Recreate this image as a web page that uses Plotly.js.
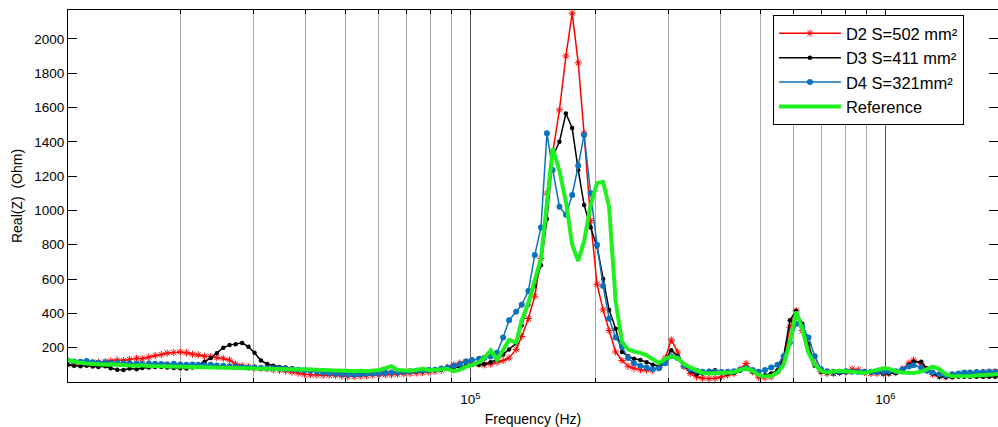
<!DOCTYPE html>
<html>
<head>
<meta charset="utf-8">
<script src="https://cdn.plot.ly/plotly-3.0.1.min.js"></script>
<style>html,body{margin:0;padding:0;background:#fff;}#chart{width:998px;height:427px;}</style>
</head>
<body>
<div id="chart"></div>
<script>
// Frequency sampling (Hz)
const freqHz = [
10700,11100,11500,11900,12300,12700,13200,13600,14100,14600,
15100,15700,16200,16800,17400,18000,18600,19300,20000,20700,
21400,22100,22900,23700,24500,25400,26300,27200,28200,29200,
30200,31300,32400,33500,34700,35900,37200,38500,39800,41200,
42700,44200,45700,47300,49000,50700,52500,54300,56200,58200,
60300,62400,64600,66800,69200,71600,74100,76700,79400,82200,
85100,88100,91200,94400,97700,101000,105000,108000,112000,116000,
120000,124000,129000,133000,138000,143000,148000,153000,158000,164000,
170000,176000,182000,188000,195000,202000,209000,216000,224000,232000,
240000,248000,257000,266000,275000,285000,295000,305000,316000,327000,
339000,351000,363000,376000,389000,403000,417000,432000,447000,462000,
479000,495000,513000,531000,550000,569000,589000,610000,631000,653000,
676000,700000,724000,750000,776000,804000,832000,861000,891000,923000,
955000,989000,1020000,1060000,1100000,1140000,1170000,1220000,1260000,1300000,
1350000,1400000,1450000,1500000,1550000,1600000,1660000,1720000,1780000,1840000,
1910000];

// Real(Z) in Ohm
const realD2 = [
100,105,110,108,112,115,118,122,128,125,
132,138,135,145,155,160,168,172,175,170,
162,158,150,148,142,138,128,105,95,88,
82,80,78,72,68,64,58,52,45,42,
42,40,40,38,35,32,32,35,38,40,
42,42,42,45,48,50,52,55,58,62,
68,85,100,110,118,110,105,100,105,115,
125,140,190,265,370,500,720,1100,1340,1586,
1900,2150,1860,1450,940,570,420,300,175,125,
92,80,72,70,70,85,140,245,175,90,
50,30,22,20,22,30,40,50,75,108,
60,28,25,30,60,130,320,415,300,215,
110,60,50,50,55,60,75,70,55,50,
50,48,50,55,75,110,128,105,70,45,
32,30,35,40,45,48,52,55,58,60,
60];

const realD3 = [
100,95,92,95,90,88,92,80,72,70,
78,75,82,85,88,88,85,82,80,78,
85,100,118,140,168,200,215,220,228,205,
170,125,105,95,88,85,80,72,68,65,
62,60,55,52,50,48,48,50,52,55,
55,58,58,56,58,60,62,63,65,68,
72,78,85,90,95,100,100,105,115,130,
160,190,226,330,450,560,680,950,1314,1400,
1565,1480,1236,1032,900,790,600,420,310,175,
150,135,128,115,100,90,130,185,150,95,
65,45,50,65,68,55,50,52,65,80,
60,42,40,50,68,150,360,415,340,220,
95,60,52,50,52,55,58,60,60,55,
52,50,50,52,60,100,118,118,80,50,
32,28,28,30,30,30,30,30,30,30,
30];

const realD4 = [
125,120,118,122,115,112,115,110,112,108,
110,108,105,108,106,105,104,106,102,100,
102,100,98,100,96,95,92,90,88,85,
86,82,80,80,78,76,75,72,68,65,
60,56,52,48,45,42,42,45,48,50,
50,52,55,55,58,62,65,68,70,72,
78,85,95,105,120,128,135,140,148,170,
260,360,410,450,530,740,900,1450,1236,1022,
975,1090,1260,1440,1100,800,560,370,260,205,
140,110,95,85,75,80,110,150,140,95,
75,65,60,58,60,58,60,62,72,80,
70,60,70,85,100,150,230,340,320,260,
150,75,62,60,60,62,60,58,60,60,
58,60,62,62,75,90,98,85,65,55,
45,40,45,50,55,55,58,58,60,60,
60];

const realRef = [
128,118,112,108,105,103,100,104,100,98,
96,95,98,93,92,91,90,89,88,87,
86,85,84,83,82,81,80,80,79,78,
78,77,76,75,76,75,74,73,75,72,
70,70,68,67,68,65,62,65,62,66,
70,80,92,70,65,66,70,78,68,70,
72,76,62,72,88,100,115,140,185,130,
190,245,230,360,460,590,720,1040,1362,1230,
1050,800,705,820,1030,1160,1165,1020,470,235,
190,178,170,155,130,110,135,150,138,105,
85,65,52,50,52,55,55,57,70,80,
65,40,32,35,55,100,230,410,310,170,
100,65,55,58,66,62,58,55,52,62,
72,80,78,62,55,50,52,60,78,90,
75,45,33,32,33,35,38,40,42,45,
46];

const seriesNames = ['D2 S=502 mm²', 'D3 S=411 mm²', 'D4 S=321mm²', 'Reference'];
const majorTicks = [1e5, 1e6];
const majorTickText = ['10<sup>5</sup>', '10<sup>6</sup>'];
const minorTicks = [20000,30000,40000,50000,60000,70000,80000,90000,
                    200000,300000,400000,500000,600000,700000,800000,900000];
const yTicks = [200,400,600,800,1000,1200,1400,1600,1800,2000];

const FONT = 'Arial, "Liberation Sans", sans-serif';

const traces = [
  {x: freqHz, y: realD2, name: seriesNames[0], type: 'scatter', mode: 'lines+markers',
   line: {color: '#ff0000', width: 1.5},
   marker: {symbol: 'asterisk-open', size: 6, color: '#ff0000', line: {color: '#ff0000', width: 1}}},
  {x: freqHz, y: realD3, name: seriesNames[1], type: 'scatter', mode: 'lines+markers',
   line: {color: '#000000', width: 1.5},
   marker: {symbol: 'circle', size: 4.5, color: '#000000'}},
  {x: freqHz, y: realD4, name: seriesNames[2], type: 'scatter', mode: 'lines+markers',
   line: {color: '#0a72bd', width: 1.5},
   marker: {symbol: 'circle', size: 6, color: '#0a72bd'}},
  {x: freqHz, y: realRef, name: seriesNames[3], type: 'scatter', mode: 'lines',
   line: {color: '#1ff01f', width: 4}}
];

const layout = {
  width: 998, height: 427,
  margin: {l: 68, r: 0, t: 10, b: 45},
  paper_bgcolor: '#ffffff', plot_bgcolor: '#ffffff',
  font: {family: FONT, color: '#000000', size: 13.5},
  showlegend: true,
  legend: {
    x: 0.758, y: 0.9866, xanchor: 'left', yanchor: 'top',
    bgcolor: '#ffffff', bordercolor: '#000000', borderwidth: 1,
    font: {family: FONT, size: 16.5, color: '#000000'},
    itemwidth: 62, tracegroupgap: 0,
    entrywidth: 200, entrywidthmode: 'pixels'
  },
  xaxis: {
    type: 'log', range: [4.0306, 6.2716],
    tickmode: 'array', tickvals: majorTicks, ticktext: majorTickText,
    ticks: 'inside', ticklen: 5, tickcolor: '#000000',
    ticklabelstandoff: 5,
    showgrid: true, gridcolor: '#555555', gridwidth: 1,
    minor: {tickmode: 'array', tickvals: minorTicks, ticks: 'inside', ticklen: 4,
            tickcolor: '#000000', showgrid: true, gridcolor: '#a8a8a8', gridwidth: 1},
    showline: true, linecolor: '#000000', linewidth: 1, mirror: 'ticks',
    zeroline: false,
    tickfont: {family: FONT, size: 13.5},
    title: {text: 'Frequency (Hz)', font: {family: FONT, size: 14}, standoff: 8}
  },
  yaxis: {
    range: [0, 2168],
    tickmode: 'array', tickvals: yTicks,
    ticks: 'inside', ticklen: 9, tickcolor: '#000000',
    showgrid: false, zeroline: false,
    showline: true, linecolor: '#000000', linewidth: 1, mirror: 'ticks',
    tickfont: {family: FONT, size: 13.5},
    title: {text: 'Real(Z) \u00a0(Ohm)', font: {family: FONT, size: 14}, standoff: 8}
  }
};

Plotly.newPlot('chart', traces, layout, {staticPlot: true, displayModeBar: false});
</script>
</body>
</html>
